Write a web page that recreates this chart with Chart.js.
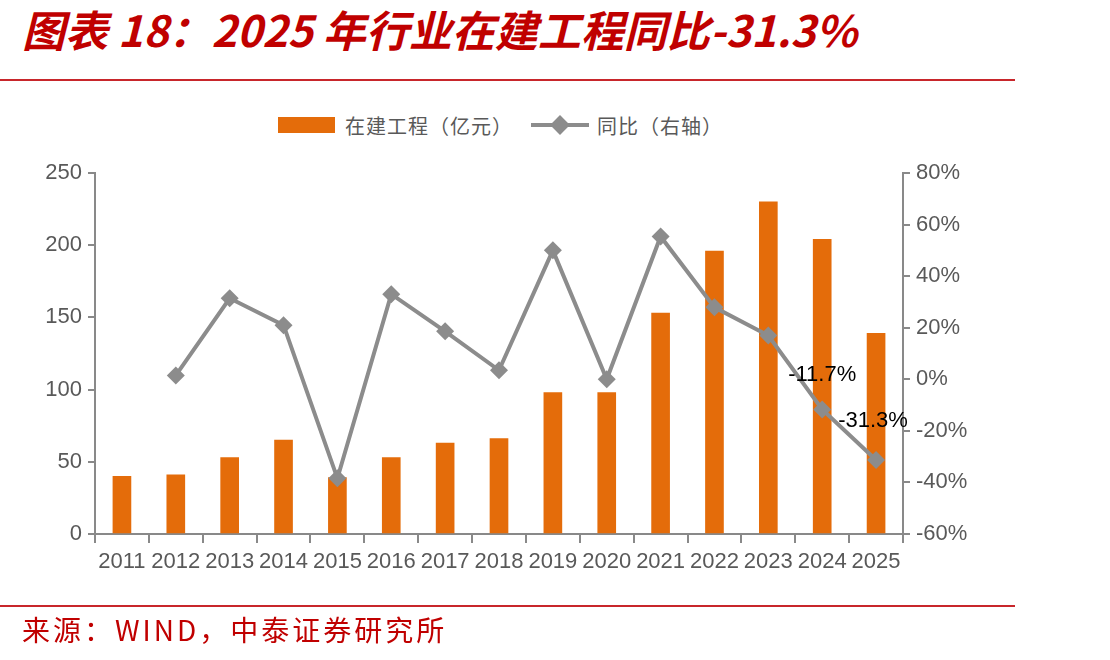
<!DOCTYPE html>
<html>
<head>
<meta charset="utf-8">
<script src="https://cdn.jsdelivr.net/npm/chart.js@4.4.1/dist/chart.umd.min.js"></script>
<style>
  body { margin: 0; background: #fff; }
  #wrap { position: relative; width: 1110px; height: 660px; overflow: hidden; }
  #title {
    position: absolute; left: 22px; top: -3px;
    font-family: "Noto Sans CJK SC", sans-serif; font-weight: bold; font-style: italic;
    font-size: 43px; color: #C00000; white-space: nowrap;
  }
  .rule { position: absolute; left: 0; width: 1015px; height: 2px; background: #C8262B; }
  #source {
    position: absolute; left: 22px; top: 609px;
    font-family: "Noto Sans CJK SC", sans-serif; font-size: 28px; letter-spacing: 3px;
    color: #C00000; white-space: nowrap;
  }
  #legend {
    position: absolute; left: 278px; top: 110px; height: 30px;
    font-family: "Noto Sans CJK SC", sans-serif; font-size: 20px; color: #595959;
    display: flex; align-items: center; white-space: nowrap; letter-spacing: 1px;
  }
  #legend .box { width: 57px; height: 16px; background: #E46C0A; margin-right: 10px; }
  #legend .ln { position: relative; width: 58px; height: 16px; margin: 0 8px 0 18px; }
  #legend .ln::before { content: ""; position: absolute; left: 0; right: 0; top: 6px; height: 4px; background: #8C8C8C; }
  #legend .ln::after { content: ""; position: absolute; left: 22px; top: 1px; width: 14px; height: 14px; background: #8C8C8C; transform: rotate(45deg); }
  canvas { position: absolute; left: 0; top: 0; }
</style>
</head>
<body>
<div id="wrap">
  <div id="title">图表 18：2025 年行业在建工程同比-31.3%</div>
  <div class="rule" style="top:79px"></div>
  <div id="legend"><span class="box"></span>在建工程（亿元）<span class="ln"></span>同比（右轴）</div>
  <canvas id="myChart" width="1110" height="660"></canvas>
  <div class="rule" style="top:605px"></div>
  <div id="source">来源：WIND，中泰证券研究所</div>
</div>
<script>
let years = ["2011", "2012", "2013", "2014", "2015", "2016", "2017", "2018", "2019", "2020", "2021", "2022", "2023", "2024", "2025"];
let construction = [40, 41, 53, 65, 39, 53, 63, 66, 98, 98, 153, 196, 230, 204, 139];
let yoy = [null, 0.015, 0.314, 0.21, -0.384, 0.33, 0.186, 0.035, 0.50, 0.0, 0.554, 0.279, 0.17, -0.117, -0.313];
let leftTicks = [0, 50, 100, 150, 200, 250];
let rightTicks = [-0.6, -0.4, -0.2, 0, 0.2, 0.4, 0.6, 0.8];
let labelledPoints = [13, 14];

const axisGray = "#898989";
const tickFamily = "Liberation Sans, Arial, sans-serif";

// draws the two data labels on the last points
const pointLabels = {
  id: "pointLabels",
  afterDatasetsDraw(chart) {
    const ctx = chart.ctx;
    const meta = chart.getDatasetMeta(1);
    ctx.save();
    ctx.font = "22px 'Liberation Sans', Arial, sans-serif";
    ctx.fillStyle = "#000";
    ctx.textAlign = "center";
    ctx.textBaseline = "middle";
    labelledPoints.forEach(function (i, k) {
      const p = meta.data[i];
      const txt = (yoy[i] * 100).toFixed(1) + "%";
      const dx = k === 0 ? 0 : -3;
      const dy = k === 0 ? -35 : -39;
      ctx.fillText(txt, p.x + dx, p.y + dy);
    });
    ctx.restore();
  }
};

function buildChart() {
  var ctx = document.getElementById("myChart").getContext("2d");
  new Chart(ctx, {
    data: {
      labels: years,
      datasets: [
        {
          type: "bar",
          label: "在建工程（亿元）",
          data: construction,
          backgroundColor: "#E46C0A",
          barThickness: 18,
          yAxisID: "y",
          order: 2,
        },
        {
          type: "line",
          label: "同比（右轴）",
          data: yoy,
          borderColor: "#8C8C8C",
          backgroundColor: "#8C8C8C",
          borderWidth: 4,
          pointStyle: "rectRot",
          pointRadius: 9,
          pointHoverRadius: 9,
          pointBorderWidth: 0,
          tension: 0,
          yAxisID: "y1",
          order: 1,
        },
      ],
    },
    options: {
      responsive: false,
      animation: false,
      layout: { padding: { top: 173, bottom: 0, left: 0, right: 0 } },
      plugins: { legend: { display: false }, tooltip: { enabled: false } },
      scales: {
        x: {
          offset: true,
          grid: { offset: true, drawOnChartArea: false, color: axisGray, lineWidth: 2, tickLength: 9 },
          border: { color: axisGray, width: 2 },
          ticks: { color: "#595959", font: { family: tickFamily, size: 22 }, padding: 6, maxRotation: 0, autoSkip: false },
          afterFit(scale) { scale.height = 126; },
        },
        y: {
          position: "left",
          min: 0,
          max: 250,
          afterBuildTicks(scale) { scale.ticks = leftTicks.map(v => ({ value: v })); },
          grid: { drawOnChartArea: false, color: axisGray, lineWidth: 2, tickLength: 7 },
          border: { color: axisGray, width: 2 },
          ticks: { color: "#595959", font: { family: tickFamily, size: 22 }, padding: 6 },
          afterFit(scale) { scale.width = 95; },
        },
        y1: {
          position: "right",
          min: -0.6,
          max: 0.8,
          afterBuildTicks(scale) { scale.ticks = rightTicks.map(v => ({ value: v })); },
          grid: { drawOnChartArea: false, color: axisGray, lineWidth: 2, tickLength: 7 },
          border: { color: axisGray, width: 2 },
          ticks: {
            color: "#595959",
            font: { family: tickFamily, size: 22 },
            padding: 6,
            callback: v => Math.round(v * 100) + "%",
          },
          afterFit(scale) { scale.width = 207; },
        },
      },
    },
    plugins: [pointLabels],
  });
}

buildChart();
</script>
</body>
</html>
